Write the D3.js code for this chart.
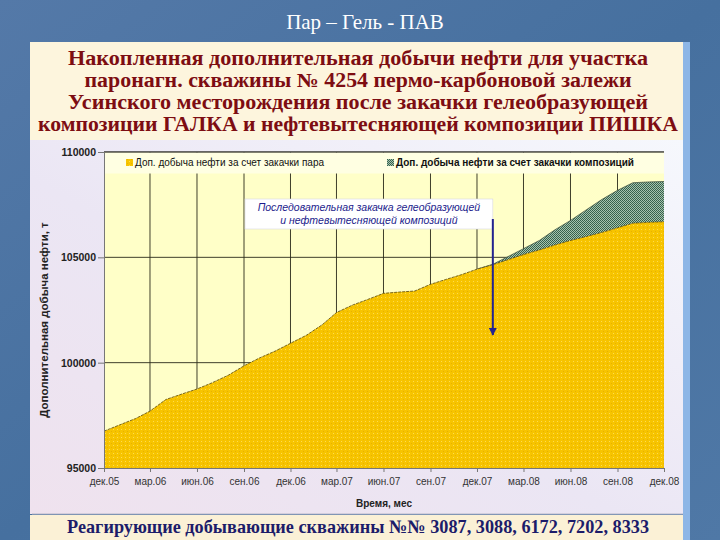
<!DOCTYPE html>
<html>
<head>
<meta charset="utf-8">
<script src="https://cdn.jsdelivr.net/npm/d3@7"></script>
<style>
  html, body { margin: 0; padding: 0; background: #4a72a6; }
  svg { display: block; }
</style>
</head>
<body>
<div id="viz"></div>
<script>
// cumulative extra oil, t (monthly, dec.05 .. dec.08)
const steamOil = [
  96750, 97050, 97350, 97700, 98250, 98500, 98750, 99050, 99400, 99850,
  100220, 100550, 100920, 101300, 101800, 102380, 102730, 103000, 103290, 103350,
  103400, 103720, 103950, 104180, 104440, 104650, 104900, 105130, 105350, 105580,
  105800, 105980, 106180, 106400, 106620, 106660, 106690
];
// extra oil from gel + surfactant compositions (stacked on top)
const compOil = [
  0, 0, 0, 0, 0, 0, 0, 0, 0, 0,
  0, 0, 0, 0, 0, 0, 0, 0, 0, 0,
  0, 0, 0, 0, 0, 20, 150, 280, 450, 720,
  950, 1260, 1560, 1780, 1920, 1920, 1910
];
const tickLabels = ['дек.05', 'мар.06', 'июн.06', 'сен.06', 'дек.06', 'мар.07', 'июн.07',
  'сен.07', 'дек.07', 'мар.08', 'июн.08', 'сен.08', 'дек.08'];
const yTicks = [95000, 100000, 105000, 110000];
const seriesNames = ['Доп. добыча нефти за счет закачки пара', 'Доп. добыча нефти за счет закачки композиций'];
const injectionMonth = 25; // jan.08

const titleLines = [
  'Накопленная  дополнительная добычи нефти для участка',
  'паронагн. скважины № 4254 пермо-карбоновой залежи',
  'Усинского месторождения после закачки гелеобразующей',
  'композиции ГАЛКА и нефтевытесняющей композиции ПИШКА'
];

const width = 720;
const height = 540;
const start = new Date(2005, 11, 1);
const dates = steamOil.map((d, i) => d3.timeMonth.offset(start, i));

const svg = d3.select('#viz').append('svg')
  .attr('width', width)
  .attr('height', height);

const defs = svg.append('defs');

const bgGrad = defs.append('linearGradient').attr('id', 'bg')
  .attr('x1', 0).attr('y1', 0).attr('x2', 1).attr('y2', 1);
bgGrad.append('stop').attr('offset', 0).attr('stop-color', '#5479a8');
bgGrad.append('stop').attr('offset', 0.5).attr('stop-color', '#46709f');
bgGrad.append('stop').attr('offset', 1).attr('stop-color', '#4f78a6');

const panelGrad = defs.append('linearGradient').attr('id', 'panel')
  .attr('x1', 0).attr('y1', 1).attr('x2', 1).attr('y2', 0);
panelGrad.append('stop').attr('offset', 0).attr('stop-color', '#efe2ee');
panelGrad.append('stop').attr('offset', 0.45).attr('stop-color', '#ebe6f4');
panelGrad.append('stop').attr('offset', 1).attr('stop-color', '#f6f8fd');

const dots = defs.append('pattern').attr('id', 'dots')
  .attr('width', 4).attr('height', 4).attr('patternUnits', 'userSpaceOnUse');
dots.append('rect').attr('width', 4).attr('height', 4).attr('fill', '#f7c400');
dots.append('rect').attr('x', 1).attr('y', 1).attr('width', 1).attr('height', 1).attr('fill', '#ffdc50');
dots.append('rect').attr('x', 3).attr('y', 3).attr('width', 1).attr('height', 1).attr('fill', '#e8b200');

const check = defs.append('pattern').attr('id', 'check')
  .attr('width', 2).attr('height', 2).attr('patternUnits', 'userSpaceOnUse');
check.append('rect').attr('width', 2).attr('height', 2).attr('fill', '#a6c2ae');
check.append('rect').attr('width', 1).attr('height', 1).attr('fill', '#335f4a');
check.append('rect').attr('x', 1).attr('y', 1).attr('width', 1).attr('height', 1).attr('fill', '#3a6650');

defs.append('marker').attr('id', 'arrow')
  .attr('viewBox', '0 0 10 10').attr('refX', 9).attr('refY', 5)
  .attr('markerWidth', 4).attr('markerHeight', 4).attr('orient', 'auto')
  .append('path').attr('d', 'M0,0L10,5L0,10z').attr('fill', '#23238f');

// slide background and panels
svg.append('rect').attr('width', width).attr('height', height).attr('fill', 'url(#bg)');
svg.append('rect').attr('x', 683).attr('y', 42).attr('width', 7).attr('height', 498).attr('fill', '#8db6e6');
svg.append('rect').attr('x', 30).attr('y', 42).attr('width', 653).attr('height', 98).attr('fill', '#fdf5dd');
svg.append('rect').attr('x', 30).attr('y', 140).attr('width', 653).attr('height', 374).attr('fill', 'url(#panel)');
svg.append('line').attr('x1', 32).attr('x2', 683).attr('y1', 514).attr('y2', 514)
  .attr('stroke', '#b8b8c8');
svg.append('rect').attr('x', 30).attr('y', 515).attr('width', 653).attr('height', 25).attr('fill', '#fbf1d6');

svg.append('text')
  .attr('x', 365).attr('y', 29)
  .attr('text-anchor', 'middle')
  .style('font-family', '"Liberation Serif", serif')
  .style('font-size', '21px')
  .attr('fill', '#ffffff')
  .text('Пар – Гель - ПАВ');

const titleWidths = [580, 547, 580, 640];
svg.append('g').selectAll('text')
  .data(titleLines)
  .join('text')
  .attr('x', 358)
  .attr('y', (d, i) => 65 + i * 22)
  .attr('text-anchor', 'middle')
  .attr('textLength', (d, i) => titleWidths[i])
  .attr('lengthAdjust', 'spacingAndGlyphs')
  .style('font-family', '"Liberation Serif", serif')
  .style('font-size', '20px')
  .style('font-weight', 'bold')
  .attr('fill', '#7d0d12')
  .text(d => d);

svg.append('text')
  .attr('x', 358).attr('y', 533)
  .attr('text-anchor', 'middle')
  .attr('textLength', 582)
  .attr('lengthAdjust', 'spacingAndGlyphs')
  .style('font-family', '"Liberation Serif", serif')
  .style('font-size', '19px')
  .style('font-weight', 'bold')
  .attr('fill', '#1c1c6a')
  .text('Реагирующие добывающие скважины №№ 3087, 3088, 6172, 7202, 8333');

// chart
const x = d3.scaleTime()
  .domain([dates[0], dates[dates.length - 1]])
  .range([104, 664]);
const y = d3.scaleLinear()
  .domain([95000, 110000])
  .range([468, 152]);

const plot = svg.append('g');
plot.append('rect')
  .attr('x', x.range()[0]).attr('y', y(110000))
  .attr('width', x.range()[1] - x.range()[0])
  .attr('height', y(95000) - y(110000))
  .attr('fill', '#ffffc8');

const tickDates = dates.filter((d, i) => i % 3 === 0);

plot.append('g').selectAll('line.vgrid')
  .data(tickDates.slice(1, -1))
  .join('line')
  .attr('x1', d => x(d)).attr('x2', d => x(d))
  .attr('y1', y(110000)).attr('y2', y(95000))
  .attr('stroke', '#2a2a1a').attr('stroke-width', 0.9);

plot.append('g').selectAll('line.hgrid')
  .data(yTicks.slice(1))
  .join('line')
  .attr('x1', x.range()[0]).attr('x2', x.range()[1])
  .attr('y1', d => y(d)).attr('y2', d => y(d))
  .attr('stroke', '#2a2a1a').attr('stroke-width', 0.9);

const stacked = steamOil.map((v, i) => ({ date: dates[i], base: v, top: v + compOil[i] }));

const compArea = d3.area()
  .x(d => x(d.date))
  .y0(d => y(d.base))
  .y1(d => y(d.top));
const steamArea = d3.area()
  .x(d => x(d.date))
  .y0(y(95000))
  .y1(d => y(d.base));

plot.append('path')
  .datum(stacked.slice(24))
  .attr('d', compArea)
  .attr('fill', 'url(#check)');
plot.append('path')
  .datum(stacked.slice(24))
  .attr('d', d3.line().x(d => x(d.date)).y(d => y(d.top)))
  .attr('fill', 'none').attr('stroke', '#3a4a3a').attr('stroke-width', 0.7);

plot.append('path')
  .datum(stacked)
  .attr('d', steamArea)
  .attr('fill', 'url(#dots)');
plot.append('path')
  .datum(stacked)
  .attr('d', d3.line().x(d => x(d.date)).y(d => y(d.base)))
  .attr('fill', 'none').attr('stroke', '#5a4a10').attr('stroke-width', 0.8)
  .attr('stroke-dasharray', '3,1');

// legend band
const legend = svg.append('g');
legend.append('rect')
  .attr('x', x.range()[0] + 0.5).attr('y', y(110000) + 0.5)
  .attr('width', x.range()[1] - x.range()[0] - 0.5).attr('height', 21)
  .attr('fill', '#ffffe2');
legend.append('line')
  .attr('x1', x.range()[0]).attr('x2', x.range()[1])
  .attr('y1', y(110000)).attr('y2', y(110000))
  .attr('stroke', '#333');
const legendX = [126, 387];
const legendFill = ['url(#dots)', 'url(#check)'];
legend.selectAll('rect.key')
  .data(seriesNames)
  .join('rect')
  .attr('class', 'key')
  .attr('x', (d, i) => legendX[i]).attr('y', 159)
  .attr('width', 7).attr('height', 7)
  .attr('fill', (d, i) => legendFill[i]);
legend.selectAll('text')
  .data(seriesNames)
  .join('text')
  .attr('x', (d, i) => legendX[i] + 9).attr('y', 166)
  .style('font-family', '"Liberation Sans", Arial, sans-serif')
  .style('font-size', '10px')
  .style('font-weight', (d, i) => i === 1 ? 'bold' : 'normal')
  .attr('fill', '#111')
  .text(d => d);

// axes
const xAxis = d3.axisBottom(x)
  .tickValues(tickDates)
  .tickSize(4)
  .tickFormat((d, i) => tickLabels[i]);
const gx = svg.append('g')
  .attr('transform', `translate(0,${y(95000)})`)
  .call(xAxis);
gx.select('.domain').attr('stroke', '#777');
gx.selectAll('.tick line').attr('stroke', '#777');
gx.selectAll('.tick text')
  .attr('dy', '1.0em')
  .style('font-family', '"Liberation Sans", Arial, sans-serif')
  .style('font-size', '10px')
  .attr('fill', '#333');

const yAxis = d3.axisLeft(y)
  .tickValues(yTicks)
  .tickSize(6)
  .tickFormat(d3.format('d'));
const gy = svg.append('g')
  .attr('transform', `translate(${x.range()[0]},0)`)
  .call(yAxis);
gy.select('.domain').attr('stroke', '#777');
gy.selectAll('.tick line').attr('stroke', '#777');
gy.selectAll('.tick text')
  .attr('x', -8)
  .style('font-family', '"Liberation Sans", Arial, sans-serif')
  .style('font-size', '10.5px')
  .style('font-weight', 'bold')
  .attr('fill', '#222');

svg.append('text')
  .attr('transform', 'translate(48,320) rotate(-90)')
  .attr('text-anchor', 'middle')
  .style('font-family', '"Liberation Sans", Arial, sans-serif')
  .style('font-size', '11.5px')
  .style('font-weight', 'bold')
  .attr('fill', '#222')
  .text('Дополнительная добыча нефти, т');

svg.append('text')
  .attr('x', 384).attr('y', 507)
  .attr('text-anchor', 'middle')
  .style('font-family', '"Liberation Sans", Arial, sans-serif')
  .style('font-size', '10px')
  .style('font-weight', 'bold')
  .attr('fill', '#222')
  .text('Время, мес');

// annotation
const ax = x(dates[injectionMonth]);
const note = svg.append('g');
note.append('rect')
  .attr('x', 245).attr('y', 199)
  .attr('width', ax - 245).attr('height', 30)
  .attr('fill', '#ffffff')
  .attr('stroke', '#d8d8e0').attr('stroke-width', 0.6);
note.selectAll('text')
  .data(['Последовательная закачка гелеобразующей', 'и нефтевытесняющей композиций'])
  .join('text')
  .attr('x', (245 + ax) / 2)
  .attr('y', (d, i) => 211 + i * 13)
  .attr('text-anchor', 'middle')
  .style('font-family', '"Liberation Sans", Arial, sans-serif')
  .style('font-size', '10.5px')
  .style('font-style', 'italic')
  .attr('fill', '#1c1c8c')
  .text(d => d);
note.append('line')
  .attr('x1', ax).attr('x2', ax)
  .attr('y1', 219).attr('y2', 335)
  .attr('stroke', '#23238f').attr('stroke-width', 2)
  .attr('marker-end', 'url(#arrow)');
</script>
</body>
</html>
